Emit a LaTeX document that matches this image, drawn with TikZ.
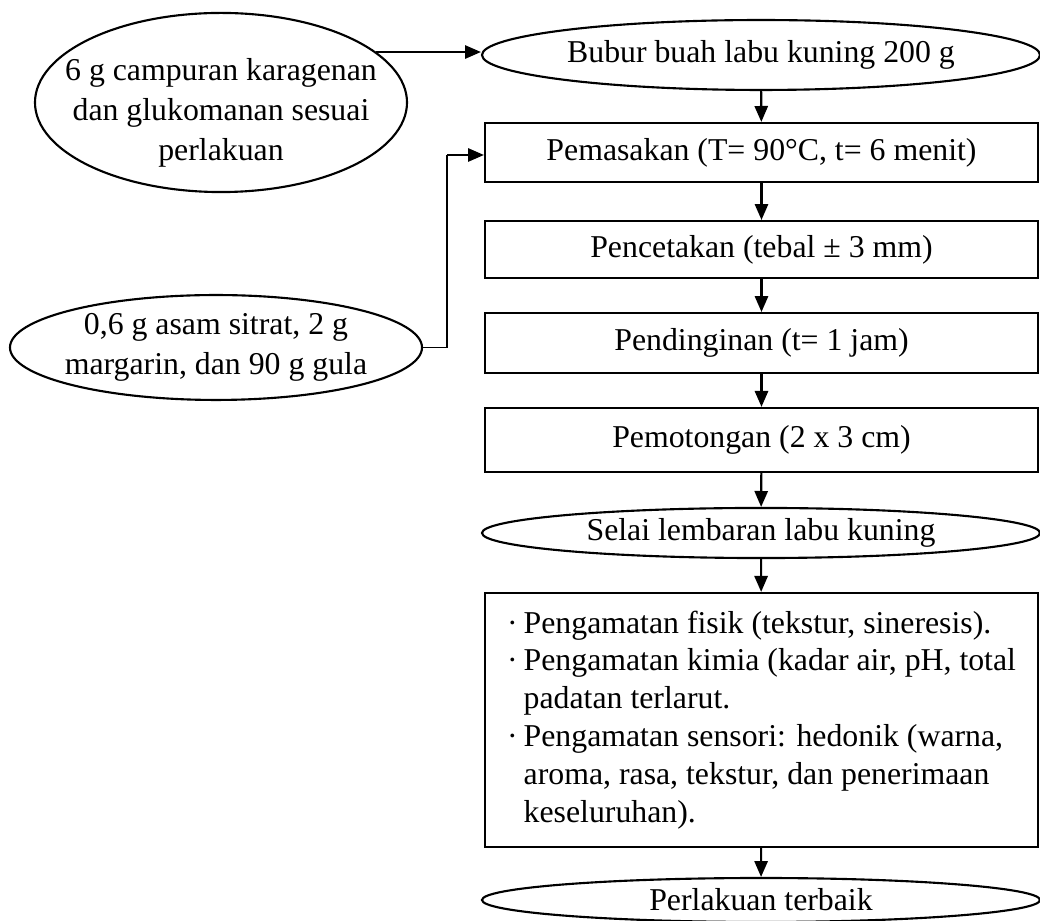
\documentclass[tikz,border=0pt]{standalone}
\usepackage{fontspec}
\setmainfont{Liberation Serif}
\usetikzlibrary{shapes.geometric}
\usetikzlibrary{arrows.meta}

\newcommand{\bul}{\makebox[6.3pt][l]{·}}
\newcommand{\ind}{\hspace*{6.3pt}}

\begin{document}
\begin{tikzpicture}[x=0.3774pt,y=-0.3774pt,thick,>={Triangle[length=6pt,width=5pt]},
font=\fontsize{12}{15}\selectfont,
procblock/.style={draw,rectangle,minimum width=208.7pt,thick},
ioblock/.style={draw,ellipse,inner xsep=-10pt,inner ysep=-6pt,align=center,thick},
noteblock/.style={draw,rectangle,minimum width=208.7pt,inner xsep=7.5pt,align=left,font=\fontsize{12}{14.3}\selectfont,thick}]
\useasboundingbox (0,0) rectangle (1040,921);

\draw (221,102.5) node[ioblock,minimum width=140.4pt,minimum height=67.6pt] (camp) {\rule{0pt}{16pt}6 g campuran karagenan\\dan glukomanan sesuai\\perlakuan};
\draw (216,347.5) node[ioblock,minimum width=155.5pt,minimum height=39.6pt] (asam) {0,6 g asam sitrat, 2 g\\margarin, dan 90 g gula};

\draw (761,55) node[ioblock,minimum width=210.6pt,minimum height=26.4pt] (bubur) {Bubur buah labu kuning 200 g};
\draw (761.5,152.5) node[procblock,minimum height=22.3pt] (masak) {Pemasakan (T= 90°C, t= 6 menit)};
\draw (761.5,249.5) node[procblock,minimum height=21.5pt] (cetak) {Pencetakan (tebal ± 3 mm)};
\draw (761.5,343) node[procblock,minimum height=22.6pt] (dingin) {Pendinginan (t= 1 jam)};
\draw (761.5,440) node[procblock,minimum height=24.2pt] (potong) {Pemotongan (2 x 3 cm)};
\draw (761,533) node[ioblock,minimum width=210.6pt,minimum height=18.9pt] (selai) {Selai lembaran labu kuning};
\draw (761.5,720) node[noteblock,minimum height=95.9pt] (amat) {\bul Pengamatan fisik (tekstur, sineresis).\\
\bul Pengamatan kimia (kadar air, pH, total\\
\ind padatan terlarut.\\
\bul Pengamatan sensori: hedonik (warna,\\
\ind aroma, rasa, tekstur, dan penerimaan\\
\ind keseluruhan).};
\draw (761,900) node[ioblock,minimum width=210.6pt,minimum height=16.6pt] (terbaik) {Perlakuan terbaik};

% bahan tambahan
\draw[->] (camp.18) -- (camp.18 -| bubur.west);
\coordinate (belok) at (447,155);
\draw[thin] (asam.east) -| (belok);
\draw[->] (belok) -- (belok -| masak.west);

% alur proses
\draw[->] (bubur) -- (masak);
\draw[->] (masak) -- (cetak);
\draw[->] (cetak) -- (dingin);
\draw[->] (dingin) -- (potong);
\draw[->] (potong) -- (selai);
\draw[->] (selai) -- (amat);
\draw[->] (amat) -- (terbaik);

\end{tikzpicture}
\end{document}
